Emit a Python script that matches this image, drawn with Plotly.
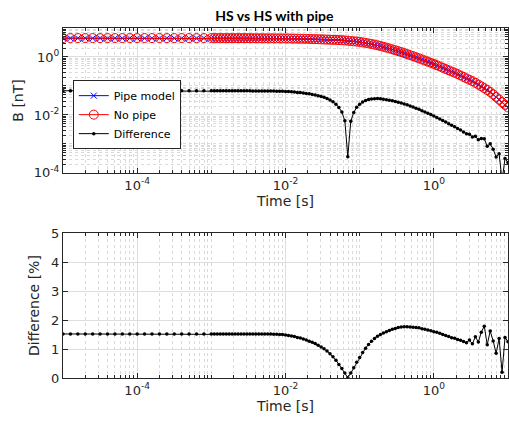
import numpy as np
import plotly.graph_objects as go

# Sampling times: a coarse early run (10 per decade) and a fine run from 1 ms on (25 per decade)
t_early = np.logspace(-5, -3.1, 20)
t_fine = np.logspace(-3, 1, 101)

# Field without pipe [nT]
b_nopipe_early = [4.50] * 20
b_nopipe_fine = [
    4.50, 4.50, 4.50, 4.49, 4.49, 4.49, 4.49, 4.48, 4.48, 4.48, 4.48, 4.47, 4.47,
    4.46, 4.45, 4.44, 4.43, 4.43, 4.42, 4.41, 4.40, 4.40, 4.39, 4.38, 4.37, 4.37,
    4.35, 4.33, 4.31, 4.29, 4.27, 4.25,
    4.23, 4.20, 4.16, 4.12, 4.09, 4.05,
    4.02, 3.98, 3.94, 3.90, 3.87, 3.83,
    3.79, 3.72, 3.64, 3.56, 3.48, 3.40, 3.31,
    3.18, 3.06, 2.94, 2.81, 2.67, 2.54, 2.39, 2.25, 2.11, 1.97, 1.84, 1.71, 1.59,
    1.48, 1.36, 1.26, 1.16, 1.07, 0.98, 0.90, 0.824, 0.755, 0.690, 0.631, 0.575,
    0.521, 0.472, 0.427, 0.385, 0.348, 0.315, 0.288, 0.258, 0.231, 0.206, 0.183, 0.163,
    0.147, 0.129, 0.112, 0.0970, 0.0841, 0.0728, 0.0624, 0.0513, 0.0417, 0.0339,
    0.0275, 0.0224, 0.0182,
]

# Relative difference between the two models [%]
pct_early = [1.52] * 20
pct_fine = [1.52] * 21 + [
    1.51, 1.51, 1.50, 1.50, 1.48,
    1.47, 1.45, 1.43, 1.40, 1.38,
    1.35, 1.31, 1.27, 1.23, 1.19,
    1.13, 1.07, 1.01, 0.93, 0.84,
    0.73, 0.61, 0.47, 0.33, 0.17,
    0.01, 0.17, 0.35, 0.54, 0.71,
    0.88, 1.03, 1.16, 1.27, 1.36,
    1.44, 1.50, 1.55, 1.60, 1.64,
    1.68, 1.71, 1.74, 1.76, 1.77,
    1.77, 1.76, 1.75, 1.74, 1.73,
    1.70, 1.68, 1.66, 1.63, 1.60,
    1.58, 1.54, 1.50, 1.47, 1.43,
    1.39, 1.37, 1.33, 1.30, 1.26,
    1.22, 1.31, 1.18, 1.42, 1.24,
    1.58, 1.79, 1.15, 1.62, 1.28,
    0.85, 1.36, 0.20, 1.40, 1.25,
]

assert len(b_nopipe_fine) == len(t_fine) and len(pct_fine) == len(t_fine)

time = np.concatenate([t_early, t_fine])
b_nopipe = np.array(b_nopipe_early + b_nopipe_fine)
pct = np.array(pct_early + pct_fine)
diff_nt = b_nopipe * pct / 100.0
b_pipe = b_nopipe - diff_nt

INK = "#262626"
GRID = "#dedede"
MINOR = "#dadada"
FONT = "DejaVu Sans"

fig = go.Figure()
fig.add_trace(go.Scatter(
    x=time, y=b_pipe, name="Pipe model", mode="lines+markers",
    line=dict(color="rgb(0,0,255)", width=1),
    marker=dict(symbol="x-thin", size=6, line=dict(color="rgb(0,0,255)", width=1)),
    xaxis="x", yaxis="y"))
fig.add_trace(go.Scatter(
    x=time, y=b_nopipe, name="No pipe", mode="lines+markers",
    line=dict(color="rgb(255,0,0)", width=1),
    marker=dict(symbol="circle-open", size=9, color="rgb(255,0,0)", line=dict(width=1)),
    xaxis="x", yaxis="y"))
fig.add_trace(go.Scatter(
    x=time, y=diff_nt, name="Difference", mode="lines+markers",
    line=dict(color="black", width=1),
    marker=dict(symbol="circle", size=3.5, color="black"),
    xaxis="x", yaxis="y"))
fig.add_trace(go.Scatter(
    x=time, y=pct, name="Difference [%]", mode="lines+markers", showlegend=False,
    line=dict(color="black", width=1),
    marker=dict(symbol="circle", size=3.5, color="black"),
    xaxis="x2", yaxis="y2"))

# log-axis minor grid positions (2..9 within each decade, plus odd decades)
def minor_vals(lo, hi, majors):
    vals = []
    for k in range(lo, hi + 1):
        for m in range(1, 10):
            v = m * 10.0 ** k
            if 10.0 ** lo <= v <= 10.0 ** hi and not any(abs(v - M) < 1e-12 * M for M in majors):
                vals.append(v)
    return vals

x_major = [1e-4, 1e-2, 1.0]
x_text = ["10<sup>-4</sup>", "10<sup>-2</sup>", "10<sup>0</sup>"]
y_major = [1e-4, 1e-2, 1.0]
y_text = ["10<sup>-4</sup>", "10<sup>-2</sup>", "10<sup>0</sup>"]

common = dict(showline=True, linecolor=INK, linewidth=1, mirror="ticks",
              ticks="inside", ticklen=5, tickcolor=INK, zeroline=False,
              showgrid=True, gridcolor=GRID, gridwidth=1,
              tickfont=dict(size=13, color=INK, family=FONT))

x_minor = dict(tickmode="array", tickvals=minor_vals(-5, 1, x_major), ticks="inside",
               ticklen=3, tickcolor=INK, showgrid=True, gridcolor=MINOR, griddash="dot")
y_minor = dict(tickmode="array", tickvals=minor_vals(-4, 1, y_major), ticks="inside",
               ticklen=3, tickcolor=INK, showgrid=True, gridcolor=MINOR, griddash="dot")

fig.update_layout(
    width=509, height=421,
    margin=dict(l=63, r=1, t=28, b=43),
    paper_bgcolor="white", plot_bgcolor="white",
    font=dict(family=FONT, color=INK, size=13),
    title=dict(text="<b>HS vs HS with pipe</b>", x=0.475, xref="paper", xanchor="center",
               y=1 - 16 / 421, yref="container", yanchor="middle",
               font=dict(family="Lato", size=14, color="black")),
    xaxis=dict(common, type="log", range=[-5, 1], domain=[0, 1], anchor="y",
               tickmode="array", tickvals=x_major, ticktext=x_text, minor=x_minor,
               title=dict(text="Time [s]", standoff=4, font=dict(size=14, color=INK))),
    yaxis=dict(common, type="log", range=[-4, 1], domain=[0.586, 1], anchor="x",
               tickmode="array", tickvals=y_major, ticktext=y_text, minor=y_minor,
               title=dict(text="B [nT]", standoff=6, font=dict(size=14, color=INK))),
    xaxis2=dict(common, type="log", range=[-5, 1], domain=[0, 1], anchor="y2",
                tickmode="array", tickvals=x_major, ticktext=x_text, minor=x_minor,
                title=dict(text="Time [s]", standoff=4, font=dict(size=14, color=INK))),
    yaxis2=dict(common, range=[0, 5], domain=[0, 0.414], anchor="x2",
                tickmode="array", tickvals=[0, 1, 2, 3, 4, 5],
                title=dict(text="Difference [%]", standoff=8, font=dict(size=14, color=INK))),
    legend=dict(x=0.022, y=0.851, xanchor="left", yanchor="top",
                bgcolor="white", bordercolor=INK, borderwidth=1,
                font=dict(size=11, color="black", family=FONT), tracegroupgap=0),
    showlegend=True,
)

fig.write_html("out.html")
